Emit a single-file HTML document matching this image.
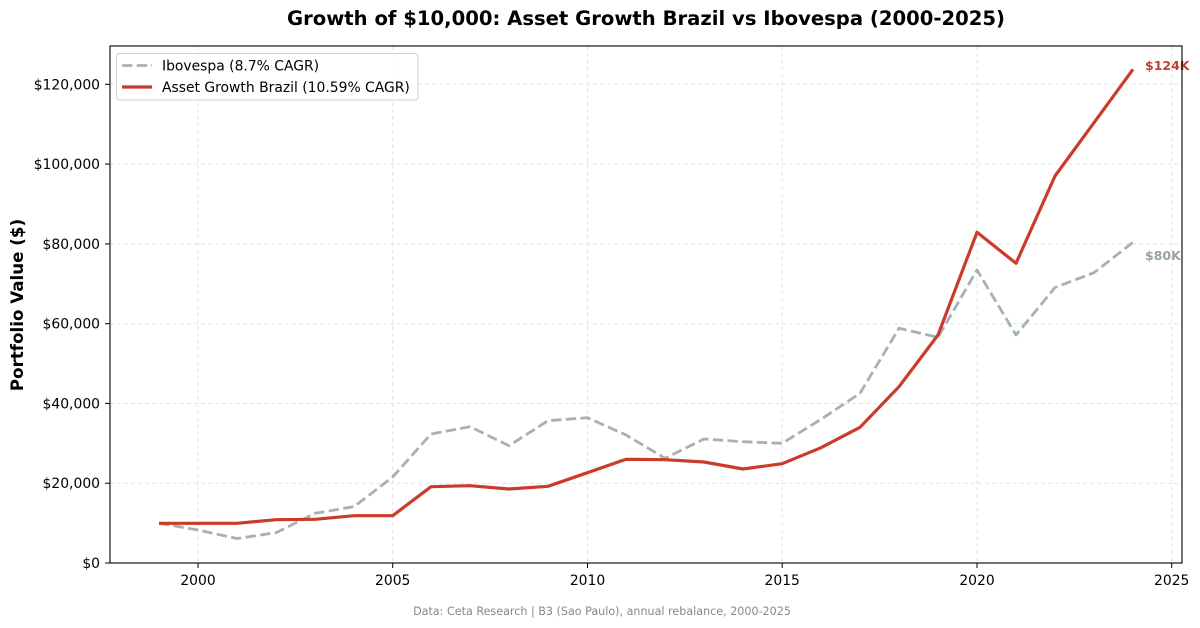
<!DOCTYPE html>
<html><head><meta charset="utf-8"><style>
html,body{margin:0;padding:0;background:#fff;}
svg{display:block;font-family:"DejaVu Sans","Liberation Sans",sans-serif;}
</style></head><body>
<svg width="1200" height="628" viewBox="0 0 1200 628" xmlns="http://www.w3.org/2000/svg">
<rect width="1200" height="628" fill="#fff"/>
<text x="646" y="25" text-anchor="middle" font-size="19.6" font-weight="bold" fill="#000">Growth of $10,000: Asset Growth Brazil vs Ibovespa (2000-2025)</text>
<!-- grid -->
<g stroke="#e3e3e3" stroke-width="1" stroke-dasharray="4,3">
<line x1="110" x2="1182" y1="483.2" y2="483.2"/>
<line x1="110" x2="1182" y1="403.4" y2="403.4"/>
<line x1="110" x2="1182" y1="323.7" y2="323.7"/>
<line x1="110" x2="1182" y1="243.9" y2="243.9"/>
<line x1="110" x2="1182" y1="164.1" y2="164.1"/>
<line x1="110" x2="1182" y1="84.3" y2="84.3"/>
<line x1="198" x2="198" y1="46" y2="563"/>
<line x1="392.7" x2="392.7" y1="46" y2="563"/>
<line x1="587.5" x2="587.5" y1="46" y2="563"/>
<line x1="782.2" x2="782.2" y1="46" y2="563"/>
<line x1="977" x2="977" y1="46" y2="563"/>
<line x1="1171.7" x2="1171.7" y1="46" y2="563"/>
</g>
<!-- series gray -->
<polyline fill="none" stroke="#95a5a6" stroke-opacity="0.85" stroke-width="2.8" stroke-dasharray="10.3,4.4" stroke-linejoin="round"
points="159,523.3 198,530 237,538.5 276,532.7 315,513.3 354,506.7 392.7,477 431,434 470,426.7 509,445.7 548,420.7 587.5,417.7 626,435 665,458.3 704,439 743,441.7 782.2,443.3 821,419.3 860,393.3 899,328.3 938,337.3 977,270 1016,335 1055,287.5 1094,272.7 1133,242.3"/>
<!-- series red -->
<polyline fill="none" stroke="#cb3b2c" stroke-width="3.2" stroke-linejoin="round"
points="159,523.3 198,523.3 237,523.3 276,519.7 315,519.3 354,515.7 392.7,515.7 431,486.7 470,485.7 509,489 548,486.3 587.5,472.7 626,459.3 665,459.7 704,462 743,469 782.2,463.7 821,447.7 860,427.3 899,386.7 938,335 977,232.3 1016,263.3 1055,176 1094,122.7 1133,69.3"/>
<!-- end labels -->
<text x="1145" y="70.2" font-size="12.5" font-weight="bold" fill="#cb3b2c">$124K</text>
<text x="1145" y="260" font-size="12.5" font-weight="bold" fill="#95a5a6">$80K</text>
<!-- axes frame -->
<rect x="110" y="46" width="1072" height="517" fill="none" stroke="#000" stroke-width="1.1"/>
<!-- ticks -->
<g stroke="#000" stroke-width="1">
<line x1="105" x2="110" y1="563" y2="563"/>
<line x1="105" x2="110" y1="483.2" y2="483.2"/>
<line x1="105" x2="110" y1="403.4" y2="403.4"/>
<line x1="105" x2="110" y1="323.7" y2="323.7"/>
<line x1="105" x2="110" y1="243.9" y2="243.9"/>
<line x1="105" x2="110" y1="164.1" y2="164.1"/>
<line x1="105" x2="110" y1="84.3" y2="84.3"/>
<line x1="198" x2="198" y1="563" y2="568"/>
<line x1="392.7" x2="392.7" y1="563" y2="568"/>
<line x1="587.5" x2="587.5" y1="563" y2="568"/>
<line x1="782.2" x2="782.2" y1="563" y2="568"/>
<line x1="977" x2="977" y1="563" y2="568"/>
<line x1="1171.7" x2="1171.7" y1="563" y2="568"/>
</g>
<g font-size="13.9" fill="#000" text-anchor="end">
<text x="100" y="568">$0</text>
<text x="100" y="488.2">$20,000</text>
<text x="100" y="408.4">$40,000</text>
<text x="100" y="328.7">$60,000</text>
<text x="100" y="248.9">$80,000</text>
<text x="100" y="169.1">$100,000</text>
<text x="100" y="89.3">$120,000</text>
</g>
<g font-size="13.9" fill="#000" text-anchor="middle">
<text x="198" y="585">2000</text>
<text x="392.7" y="585">2005</text>
<text x="587.5" y="585">2010</text>
<text x="782.2" y="585">2015</text>
<text x="977" y="585">2020</text>
<text x="1171.7" y="585">2025</text>
</g>
<text transform="translate(23,305) rotate(-90)" text-anchor="middle" font-size="16.7" font-weight="bold" fill="#000">Portfolio Value ($)</text>
<!-- legend -->
<rect x="116.5" y="53.5" width="301.5" height="46.5" rx="3" ry="3" fill="#fff" fill-opacity="0.8" stroke="#d0d0d0" stroke-width="1"/>
<line x1="122" x2="152" y1="65.5" y2="65.5" stroke="#95a5a6" stroke-opacity="0.85" stroke-width="2.8" stroke-dasharray="10.3,4.4"/>
<line x1="122" x2="152" y1="87" y2="87" stroke="#cb3b2c" stroke-width="3.2"/>
<text x="162" y="70.5" font-size="13.9" fill="#000">Ibovespa (8.7% CAGR)</text>
<text x="162" y="92" font-size="13.9" fill="#000">Asset Growth Brazil (10.59% CAGR)</text>
<!-- footer -->
<text x="602" y="615" text-anchor="middle" font-size="11.15" fill="#7f8c8d">Data: Ceta Research | B3 (Sao Paulo), annual rebalance, 2000-2025</text>
</svg>
</body></html>
